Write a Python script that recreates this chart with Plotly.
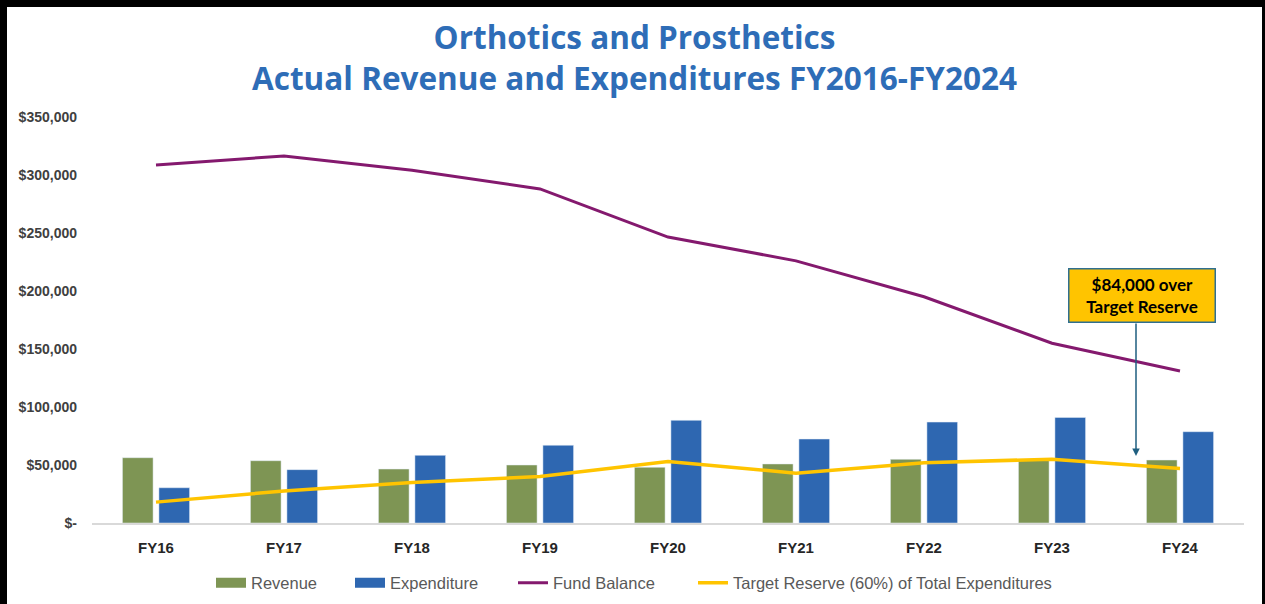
import plotly.graph_objects as go

categories = ["FY16", "FY17", "FY18", "FY19", "FY20", "FY21", "FY22", "FY23", "FY24"]
revenue = [56300, 53700, 46500, 50000, 48000, 50900, 54900, 54000, 54300]
expenditure = [30400, 46000, 58300, 67000, 88500, 72400, 87000, 91000, 78700]
fund_balance = [308600, 316400, 304000, 288000, 246500, 226000, 195000, 155000, 131000]
target_reserve = [18000, 27600, 35000, 40000, 53000, 43000, 52000, 55000, 47000]

y_tickvals = [0, 50000, 100000, 150000, 200000, 250000, 300000, 350000]
y_ticktext = ["$-", "$50,000", "$100,000", "$150,000", "$200,000", "$250,000", "$300,000", "$350,000"]

title_text = "Orthotics and Prosthetics<br>Actual Revenue and Expenditures FY2016-FY2024"
callout_text = "$84,000 over<br>Target Reserve"

REV_COLOR, EXP_COLOR = "#7E9554", "#2E67B1"
FB_COLOR, TR_COLOR = "#84196E", "#FFC400"

W, H = 1265, 604
L, R, T, B = 92, 21, 117, 81
PW, PH = W - L - R, H - T - B


def px(xp):
    return (xp - L) / PW


def py(yp):
    return (H - B - yp) / PH


fig = go.Figure()
fig.add_trace(go.Bar(x=categories, y=revenue, name="Revenue", marker_color=REV_COLOR,
                     showlegend=False, legendgroup="rev"))
fig.add_trace(go.Bar(x=categories, y=expenditure, name="Expenditure", marker_color=EXP_COLOR,
                     showlegend=False, legendgroup="exp"))
fig.add_trace(go.Scatter(x=categories, y=fund_balance, name="Fund Balance", mode="lines",
                         line=dict(color=FB_COLOR, width=3), legend="legend3"))
fig.add_trace(go.Scatter(x=categories, y=target_reserve, name="Target Reserve (60%) of Total Expenditures",
                         mode="lines", line=dict(color=TR_COLOR, width=3.5), legend="legend4"))
# legend swatches for the bar series (wide rectangles as in the original)
fig.add_trace(go.Scatter(x=[None], y=[None], name="Revenue", mode="lines", legendgroup="rev",
                         line=dict(color=REV_COLOR, width=11), legend="legend"))
fig.add_trace(go.Scatter(x=[None], y=[None], name="Expenditure", mode="lines", legendgroup="exp",
                         line=dict(color=EXP_COLOR, width=11), legend="legend2"))

shapes = [
    dict(type="rect", xref="paper", yref="paper", x0=px(-2), x1=px(7), y0=py(H + 2), y1=py(-2),
         fillcolor="black", line_width=0, layer="above"),
    dict(type="rect", xref="paper", yref="paper", x0=px(-2), x1=px(W + 2), y0=py(7), y1=py(-2),
         fillcolor="black", line_width=0, layer="above"),
    dict(type="rect", xref="paper", yref="paper", x0=px(1262), x1=px(W + 2), y0=py(H + 2), y1=py(-2),
         fillcolor="black", line_width=0, layer="above"),
]

title_font = dict(family="Open Sans", size=31.5, color="#2E6DB7", weight="bold")
annotations = [
    dict(text=title_text, xref="paper", yref="paper", x=px(634), y=py(57), showarrow=False,
         font=title_font, xanchor="center", yanchor="middle", align="center"),
    dict(text="", xref="paper", yref="paper", x=px(1136), y=py(456), ax=0, ay=-(456 - 322),
         showarrow=True, arrowhead=2, arrowsize=1, arrowwidth=1.5, arrowcolor="#1F5F80"),
    dict(text=callout_text, xref="paper", yref="paper", x=px(1142), y=py(295), showarrow=False,
         font=dict(family="Lato", size=17, color="black", weight="bold"),
         bgcolor="#FFC400", bordercolor="#2F6F90", borderwidth=1.5, borderpad=4,
         width=137, height=44, xanchor="center", yanchor="middle"),
]

legend_font = dict(family="Liberation Sans", size=16.5, color="#595959")


def leg(x_px):
    return dict(orientation="h", xref="container", yref="container",
                x=x_px / W, xanchor="left", y=1 - 583 / H, yanchor="middle",
                font=legend_font, bgcolor="rgba(0,0,0,0)", borderwidth=0, itemwidth=30)


fig.update_layout(
    width=W, height=H,
    margin=dict(l=L, r=R, t=T, b=B, pad=0, autoexpand=False),
    paper_bgcolor="white", plot_bgcolor="white",
    barmode="group", bargap=0.43, bargroupgap=0.16,
    showlegend=True,
    legend=leg(211),
    legend2=leg(350),
    legend3=leg(513),
    legend4=leg(693),
    shapes=shapes,
    annotations=annotations,
    xaxis=dict(type="category", showgrid=False, showline=True, linecolor="#D9D9D9", linewidth=1.5,
               ticks="", tickfont=dict(family="Liberation Sans", size=15, color="#262626", weight="bold"),
               ticklabelstandoff=10, range=[-0.5, 8.5]),
    yaxis=dict(range=[0, 350000], showgrid=False, zeroline=False, showline=False,
               tickvals=y_tickvals, ticktext=y_ticktext, ticks="",
               tickfont=dict(family="Liberation Sans", size=14, color="#404040", weight="bold"),
               ticklabelstandoff=14),
)

fig.write_html("out.html", config={"displayModeBar": False},
               post_script="document.body.style.margin='0';document.body.style.overflow='hidden';")
